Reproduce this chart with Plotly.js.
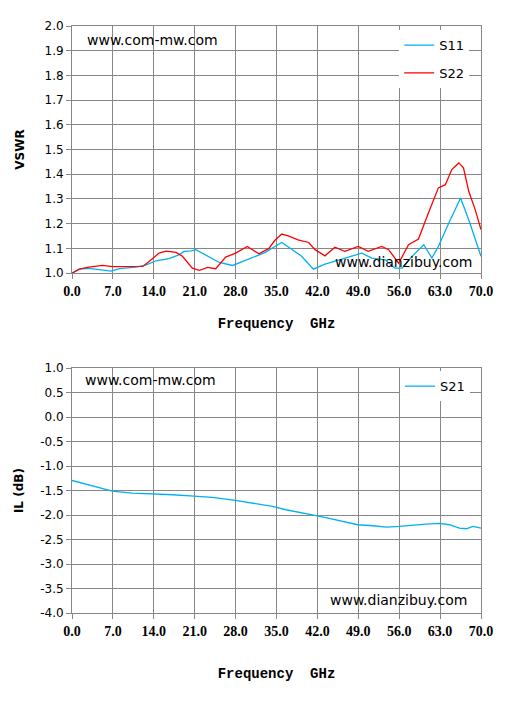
<!DOCTYPE html>
<html>
<head>
<meta charset="utf-8">
<script src="https://cdn.plot.ly/plotly-3.0.1.min.js"></script>
<style>html,body{margin:0;padding:0;background:#fff;}#chart{width:515px;height:702px;}</style>
</head>
<body>
<div id="chart"></div>
<script>
// ---- data ----
var freqS11 = [0,1.25,2.9,4.7,6.7,8.1,10.9,12.6,14.4,16.6,18.3,19.2,20.4,21.2,22.9,25.2,27.5,29.1,31.4,33.1,34.7,35.9,37.6,39.3,41.3,43.3,46.2,49.6,51.3,53.6,55.3,56.5,58.2,60.2,61.6,62.7,64.5,66.5,67.9,70];
var s11 = [1.000,1.016,1.019,1.014,1.008,1.018,1.024,1.032,1.050,1.059,1.074,1.088,1.090,1.095,1.074,1.043,1.031,1.047,1.070,1.084,1.108,1.124,1.097,1.068,1.016,1.036,1.057,1.081,1.061,1.054,1.020,1.020,1.068,1.115,1.061,1.108,1.203,1.304,1.216,1.068];

var freqS22 = [0,1.25,2.9,5.2,7.0,9.2,12.1,13.2,14.9,16.1,17.8,18.9,20.6,21.8,23.2,24.6,26.3,28.0,30.0,32.0,33.7,34.7,35.9,37.0,38.7,40.5,41.6,43.3,45.0,46.7,49.0,50.7,53.0,54.2,55.9,57.6,59.3,61.0,62.7,63.9,65.0,66.2,67.0,67.9,69.0,70];
var s22 = [1.000,1.016,1.024,1.031,1.026,1.026,1.027,1.047,1.081,1.089,1.084,1.068,1.020,1.011,1.023,1.018,1.065,1.081,1.108,1.078,1.100,1.132,1.158,1.151,1.135,1.124,1.095,1.070,1.105,1.088,1.108,1.088,1.108,1.095,1.040,1.115,1.138,1.243,1.345,1.358,1.419,1.446,1.426,1.331,1.257,1.176];

var freqS21 = [0,2.9,4.6,6.9,10.3,13.7,17.2,20.9,24.0,28.0,31.5,34.3,36.6,39.5,42.0,44.6,46.9,48.9,51.5,53.8,56.0,58.3,60.6,62.9,64.6,66.3,67.5,68.6,70];
var s21 = [-1.293,-1.381,-1.429,-1.510,-1.551,-1.565,-1.585,-1.612,-1.639,-1.700,-1.762,-1.823,-1.891,-1.952,-2.014,-2.082,-2.136,-2.197,-2.218,-2.245,-2.231,-2.204,-2.184,-2.170,-2.197,-2.265,-2.279,-2.231,-2.265];

var ilTickVals = [1.0,0.5,0.0,-0.5,-1.0,-1.5,-2.0,-2.5,-3.0,-3.5,-4.0];
var ilTickText = ['1.0','0.5','0.0','-0.5','-1.0','-1.5','-2.0','-2.5','-3.0','-3.5','-4.0'];

var seriesNames = ['S11','S22','S21'];
var xTitle = 'Frequency&nbsp;&nbsp;GHz';
var yTitleTop = 'VSWR';
var yTitleBottom = 'IL (dB)';
var watermark1 = 'www.com-mw.com';
var watermark2 = 'www.dianzibuy.com';

// ---- styling ----
var blue = '#00B0F0', red = '#FF0000', grid = '#878787';
var tickFontX = {family:'Liberation Serif', size:14, color:'#000', weight:'bold'};
var tickFontY = {family:'DejaVu Sans', size:12, color:'#000'};
var xTitleFont = {family:'Liberation Mono', size:14, color:'#000', weight:'bold'};
var yTitleFont = {family:'DejaVu Sans', size:12, color:'#000', weight:'bold'};

function xAxis(anchor, standoff){
  return {anchor:anchor, domain:[0,1], range:[0,70], dtick:7, tick0:0, tickformat:'.1f',
    showgrid:true, gridcolor:grid, gridwidth:1, zeroline:false,
    showline:true, linecolor:grid, linewidth:1, mirror:true,
    ticks:'outside', ticklen:5, tickcolor:grid, tickfont:tickFontX,
    title:{text:xTitle, font:xTitleFont, standoff:standoff}, fixedrange:true};
}
function yAxis(anchor, dom, rng, title, standoff){
  return {anchor:anchor, domain:dom, range:rng,
    showgrid:true, gridcolor:grid, gridwidth:1, zeroline:false,
    showline:true, linecolor:grid, linewidth:1, mirror:true,
    ticks:'outside', ticklen:5, tickcolor:grid, tickfont:tickFontY,
    title:{text:title, font:yTitleFont, standoff:standoff}, fixedrange:true};
}

var yTop = yAxis('x', [0.579,1], [1,2], yTitleTop, 17);
yTop.dtick = 0.1; yTop.tickformat = '.1f';
var yBot = yAxis('x2', [0,0.417], [-4,1], yTitleBottom, 13);
yBot.tickmode = 'array'; yBot.tickvals = ilTickVals; yBot.ticktext = ilTickText;

var traces = [
  {x:freqS11, y:s11, name:seriesNames[0], type:'scatter', mode:'lines', line:{color:blue, width:1.3}, xaxis:'x', yaxis:'y', legend:'legend', legendgroup:'a'},
  {x:freqS22, y:s22, name:seriesNames[1], type:'scatter', mode:'lines', line:{color:red, width:1.3}, xaxis:'x', yaxis:'y', legend:'legend', legendgroup:'b'},
  {x:freqS21, y:s21, name:seriesNames[2], type:'scatter', mode:'lines', line:{color:blue, width:1.3}, xaxis:'x2', yaxis:'y2', legend:'legend2'}
];

var annFont = {family:'DejaVu Sans', size:14, color:'#000'};
var layout = {
  width:515, height:702,
  margin:{l:72, r:34, t:26, b:89},
  paper_bgcolor:'#fff', plot_bgcolor:'#fff',
  showlegend:true,
  xaxis:xAxis('y', 20),
  yaxis:yTop,
  xaxis2:xAxis('y2', 30),
  yaxis2:yBot,
  legend:{x:0.80, y:0.993, xanchor:'left', yanchor:'top', bgcolor:'#fff', borderwidth:0,
    font:{family:'DejaVu Sans', size:13, color:'#000'}, traceorder:'grouped', tracegroupgap:8},
  legend2:{x:0.802, y:0.412, xanchor:'left', yanchor:'top', bgcolor:'#fff', borderwidth:0,
    font:{family:'DejaVu Sans', size:13, color:'#000'}},
  annotations:[
    {text:watermark1, xref:'paper', yref:'paper', x:0.032, y:0.976, xanchor:'left', yanchor:'middle', showarrow:false, font:annFont},
    {text:watermark2, xref:'paper', yref:'paper', x:0.638, y:0.598, xanchor:'left', yanchor:'middle', showarrow:false, font:annFont},
    {text:watermark1, xref:'paper', yref:'paper', x:0.027, y:0.397, xanchor:'left', yanchor:'middle', showarrow:false, font:annFont},
    {text:watermark2, xref:'paper', yref:'paper', x:0.626, y:0.022, xanchor:'left', yanchor:'middle', showarrow:false, font:annFont}
  ]
};

Plotly.newPlot('chart', traces, layout, {displayModeBar:false, staticPlot:true});
</script>
</body>
</html>
